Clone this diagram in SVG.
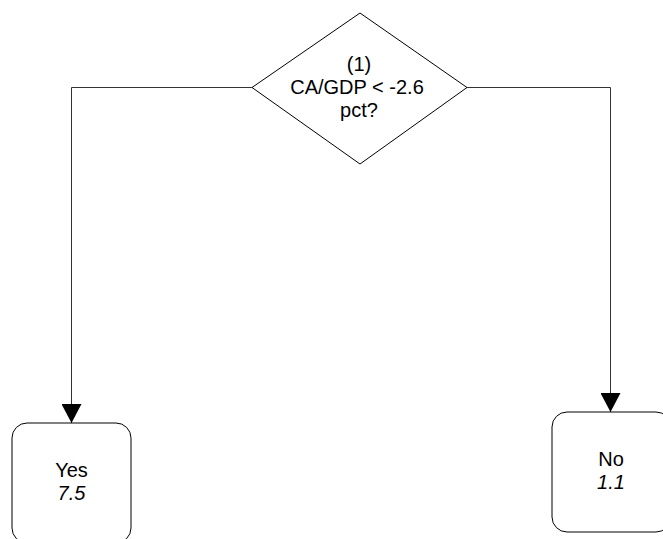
<svg xmlns="http://www.w3.org/2000/svg" width="663" height="539" viewBox="0 0 663 539">
<defs>
<style>
.edge{fill:none;stroke:#333;stroke-width:1}
.shape{fill:#fff;stroke:#000;stroke-width:1}
text{font-family:"Liberation Sans",Arial,sans-serif;font-size:20px;fill:#000;text-anchor:middle}
.it{font-style:italic}
</style>
<marker id="arr" markerUnits="userSpaceOnUse" markerWidth="19" markerHeight="20" viewBox="0 0 19 20" refX="19" refY="10" orient="auto">
<path d="M0,0 L19,10 L0,20 Z" fill="#000"/>
</marker>
</defs>
<rect width="663" height="539" fill="#fff"/>
<g id="connectors">
<path class="edge" d="M252,87.5 H71.5 V423" marker-end="url(#arr)"/>
<path class="edge" d="M467,87.5 H610.5 V412" marker-end="url(#arr)"/>
</g>
<g id="node-decision">
<polygon class="shape" points="360,13 467,87.5 360,164 252,87.5"/>
<text x="359" y="71">(1)</text>
<text x="357" y="94">CA/GDP &lt; -2.6</text>
<text x="359" y="117">pct?</text>
</g>
<g id="node-yes">
<rect class="shape" x="12" y="423" width="119" height="120" rx="15" ry="15"/>
<text x="71.5" y="477">Yes</text>
<text x="71.5" y="500" class="it">7.5</text>
</g>
<g id="node-no">
<rect class="shape" x="552" y="412" width="119" height="120" rx="15" ry="15"/>
<text x="611" y="466">No</text>
<text x="611" y="489" class="it">1.1</text>
</g>
</svg>
